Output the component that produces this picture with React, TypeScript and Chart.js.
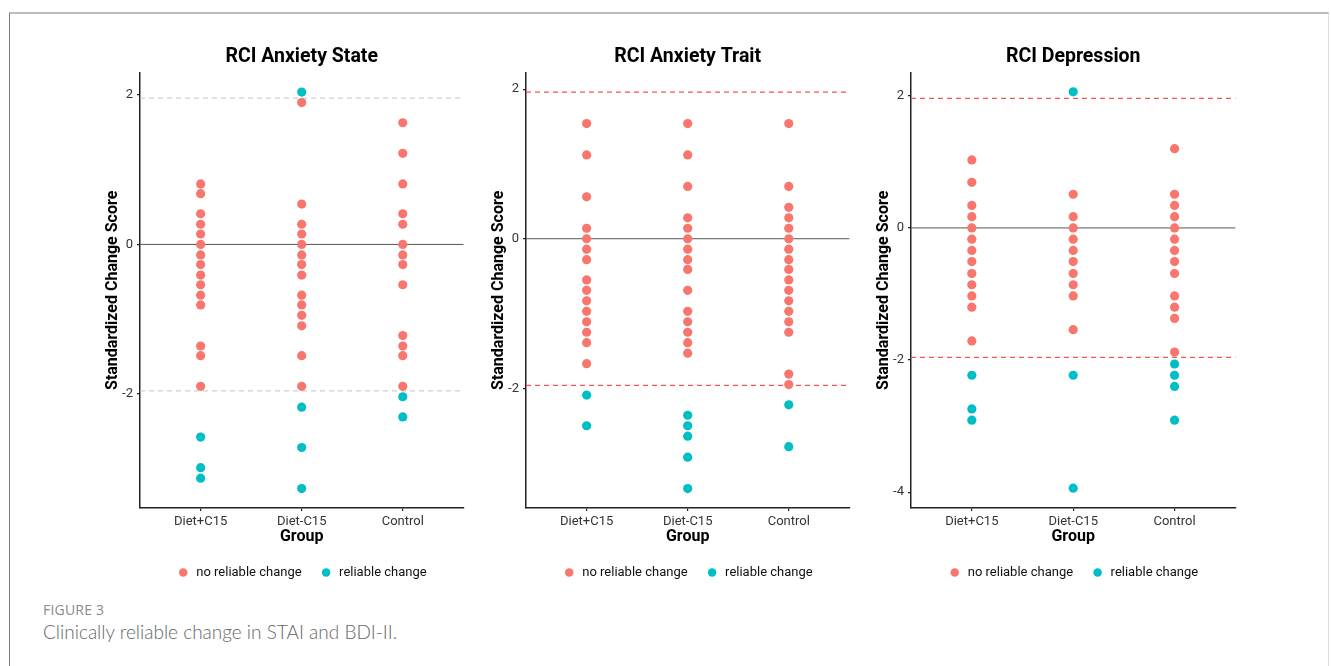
import React, { useEffect, useRef } from "react";
import { Chart, registerables } from "chart.js";

Chart.register(...registerables);

// ---------- data ----------
const groups = ["Diet+C15", "Diet-C15", "Control"];
const rciThreshold = 1.96;

const stateDietPlus = [0.81, 0.68, 0.41, 0.27, 0.14, 0, -0.14, -0.27, -0.41, -0.54, -0.68, -0.81, -1.36, -1.49, -1.9, -2.58, -2.99, -3.13];
const stateDietMinus = [2.04, 1.9, 0.54, 0.27, 0.14, 0, -0.14, -0.27, -0.41, -0.68, -0.81, -0.95, -1.09, -1.49, -1.9, -2.18, -2.72, -3.27];
const stateControl = [1.63, 1.22, 0.81, 0.41, 0.27, 0, -0.14, -0.27, -0.54, -1.22, -1.36, -1.49, -1.9, -2.04, -2.31];

const traitDietPlus = [1.54, 1.12, 0.56, 0.14, 0, -0.14, -0.28, -0.55, -0.69, -0.83, -0.97, -1.11, -1.25, -1.39, -1.67, -2.09, -2.5];
const traitDietMinus = [1.54, 1.12, 0.7, 0.28, 0.14, 0, -0.14, -0.28, -0.41, -0.69, -0.97, -1.11, -1.25, -1.39, -1.53, -2.36, -2.5, -2.64, -2.92, -3.34];
const traitControl = [1.54, 0.7, 0.42, 0.28, 0.14, 0, -0.14, -0.28, -0.41, -0.55, -0.69, -0.83, -0.97, -1.11, -1.25, -1.81, -1.95, -2.22, -2.78];

const depDietPlus = [1.03, 0.69, 0.34, 0.17, 0, -0.17, -0.34, -0.51, -0.69, -0.86, -1.03, -1.2, -1.71, -2.23, -2.74, -2.91];
const depDietMinus = [2.06, 0.51, 0.17, 0, -0.17, -0.34, -0.51, -0.69, -0.86, -1.03, -1.54, -2.23, -3.94];
const depControl = [1.2, 0.51, 0.34, 0.17, 0, -0.17, -0.34, -0.51, -0.69, -1.03, -1.2, -1.37, -1.88, -2.06, -2.23, -2.4, -2.91];

const ticksState = [-2, 0, 2];
const ticksTrait = [-2, 0, 2];
const ticksDep = [-4, -2, 0, 2];

const legendLabels = ["no reliable change", "reliable change"];

// ---------- style ----------
const RED = "#F8766D";
const CYAN = "#00BFC4";
const FONT = "Roboto";

const hlinePlugin = {
  id: "hlines",
  beforeDatasetsDraw(chart: any, _args: any, opts: any) {
    const { ctx, chartArea, scales } = chart;
    const y = scales.y;
    (opts.lines || []).forEach((l: any) => {
      const py = y.getPixelForValue(l.value);
      ctx.save();
      ctx.strokeStyle = l.color;
      ctx.lineWidth = l.width;
      ctx.setLineDash(l.dash || []);
      ctx.beginPath();
      ctx.moveTo(chartArea.left, py);
      ctx.lineTo(chartArea.right, py);
      ctx.stroke();
      ctx.restore();
    });
  },
};

type PanelProps = {
  title: string;
  series: number[][];
  yMin: number;
  yMax: number;
  yTicks: number[];
  dashColor: string;
  left: number;
  width: number;
};

const CANVAS_H = 549;

function Panel({ title, series, yMin, yMax, yTicks, dashColor, left, width }: PanelProps) {
  const ref = useRef<HTMLCanvasElement | null>(null);
  useEffect(() => {
    if (!ref.current) return;
    const noChange: { x: number; y: number }[] = [];
    const reliable: { x: number; y: number }[] = [];
    series.forEach((vals, gi) => {
      vals.forEach((v) => {
        const p = { x: gi + 1, y: v };
        if (Math.abs(v) > rciThreshold) reliable.push(p);
        else noChange.push(p);
      });
    });
    const chart = new Chart(ref.current, {
      type: "scatter",
      data: {
        datasets: [
          { label: legendLabels[0], data: noChange, backgroundColor: RED, borderColor: RED, borderWidth: 0, pointRadius: 4.6, pointStyle: "circle" },
          { label: legendLabels[1], data: reliable, backgroundColor: CYAN, borderColor: CYAN, borderWidth: 0, pointRadius: 4.6, pointStyle: "circle" },
        ],
      },
      plugins: [hlinePlugin],
      options: {
        animation: false,
        responsive: false,
        maintainAspectRatio: false,
        layout: { padding: 0 },
        plugins: {
          title: {
            display: true,
            text: title,
            fullSize: false,
            color: "#000",
            font: { family: FONT, size: 19.5, weight: "bold" },
            padding: { top: 5.3, bottom: 4 },
          },
          legend: {
            position: "bottom",
            fullSize: false,
            labels: {
              usePointStyle: true,
              pointStyle: "circle",
              boxWidth: 13,
              boxHeight: 6,
              color: "#111",
              font: { family: FONT, size: 13 },
              padding: 18,
            },
          },
          tooltip: { enabled: false },
          hlines: {
            lines: [
              { value: rciThreshold, color: dashColor, width: 1.2, dash: [5, 4] },
              { value: -rciThreshold, color: dashColor, width: 1.2, dash: [5, 4] },
              { value: 0, color: "#555", width: 1, dash: [] },
            ],
          },
        } as any,
        scales: {
          x: {
            type: "linear",
            min: 0.4,
            max: 3.6,
            afterBuildTicks: (s: any) => {
              s.ticks = groups.map((_g, i) => ({ value: i + 1 }));
            },
            afterFit: (s: any) => {
              s.height = 40;
            },
            ticks: {
              callback: (v: any) => groups[Number(v) - 1] ?? "",
              color: "#333",
              font: { family: FONT, size: 13 },
              padding: 3,
              maxRotation: 0,
              autoSkip: false,
            },
            grid: { display: true, drawOnChartArea: false, drawTicks: true, tickLength: 3, color: "#222", lineWidth: 1.2 },
            border: { display: true, color: "#222", width: 1.5 },
            title: {
              display: true,
              text: "Group",
              color: "#000",
              font: { family: FONT, size: 16, weight: "bold" },
              padding: { top: 0, bottom: 1 },
            },
          },
          y: {
            type: "linear",
            min: yMin,
            max: yMax,
            afterBuildTicks: (s: any) => {
              s.ticks = yTicks.map((v) => ({ value: v }));
            },
            afterFit: (s: any) => {
              s.width = 44;
            },
            ticks: {
              color: "#333",
              font: { family: FONT, size: 13 },
              padding: 4,
            },
            grid: { display: true, drawOnChartArea: false, drawTicks: true, tickLength: 3, color: "#222", lineWidth: 1.2 },
            border: { display: true, color: "#222", width: 1.5 },
            title: {
              display: true,
              text: "Standardized Change Score",
              color: "#000",
              font: { family: FONT, size: 16, weight: "bold" },
              padding: { top: 7, bottom: 2 },
            },
          },
        },
      } as any,
    });
    return () => chart.destroy();
  }, []);
  return (
    <canvas
      ref={ref}
      width={width}
      height={CANVAS_H}
      style={{ position: "absolute", left, top: 40, width, height: CANVAS_H }}
    />
  );
}

export default function App() {
  return (
    <div style={{ position: "absolute", left: 0, top: 0, width: 1331, height: 666, background: "#fff", overflow: "hidden" }}>
      <div
        style={{
          position: "absolute",
          left: 9,
          top: 12,
          width: 1320,
          height: 660,
          borderTop: "2px solid #bdbdbd",
          borderLeft: "1.5px solid #7a7a7a",
          borderRight: "1.5px solid #dddddd",
          boxSizing: "border-box",
        }}
      />
      <Panel title="RCI Anxiety State" series={[stateDietPlus, stateDietMinus, stateControl]} yMin={-3.53} yMax={2.3} yTicks={ticksState} dashColor="#cfcfcf" left={96} width={372} />
      <Panel title="RCI Anxiety Trait" series={[traitDietPlus, traitDietMinus, traitControl]} yMin={-3.6} yMax={2.22} yTicks={ticksTrait} dashColor="#F5554F" left={482} width={372} />
      <Panel title="RCI Depression" series={[depDietPlus, depDietMinus, depControl]} yMin={-4.24} yMax={2.35} yTicks={ticksDep} dashColor="#F5554F" left={867} width={373} />
      <div style={{ position: "absolute", left: 43, top: 600, fontFamily: "'Open Sans', Lato, sans-serif", fontSize: 14, color: "#8a8a8a", letterSpacing: 0.2 }}>
        FIGURE 3
      </div>
      <div style={{ position: "absolute", left: 43, top: 620, fontFamily: "Lato, 'Open Sans', sans-serif", fontSize: 19, fontWeight: 300, color: "#666" }}>
        Clinically reliable change in STAI and BDI-II.
      </div>
    </div>
  );
}
